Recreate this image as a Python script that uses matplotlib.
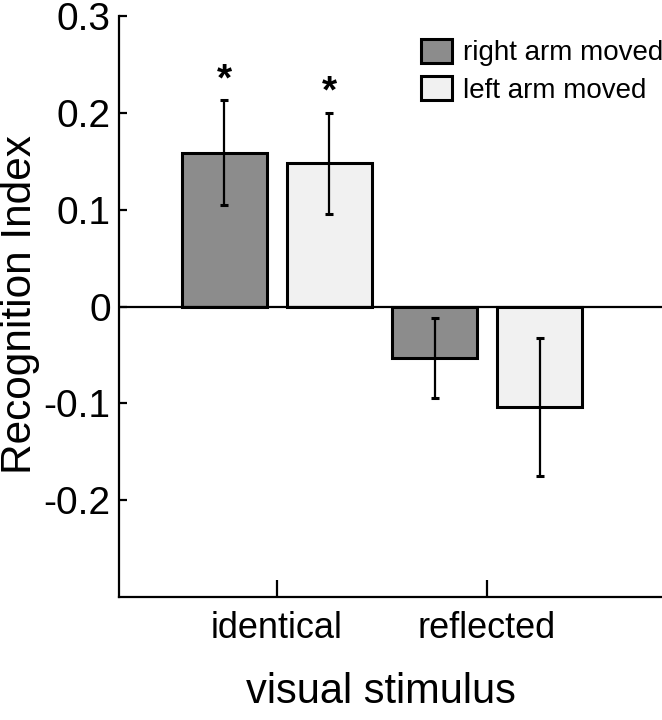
import numpy as np
import matplotlib
matplotlib.use("Agg")
import matplotlib.pyplot as plt

plt.rcParams['font.family'] = ['Liberation Sans', 'DejaVu Sans']

# data
stimuli = ["identical", "reflected"]
series = ["right arm moved", "left arm moved"]
right_arm = [0.159, -0.053]
right_err = [0.054, 0.041]
left_arm = [0.148, -0.104]
left_err = [0.052, 0.071]
signif = [[True, False], [True, False]]   # asterisk per series / stimulus

colors = ["#8c8c8c", "#f1f1f1"]

fig = plt.figure(figsize=(6.62, 7.2), dpi=100)
ax = fig.add_axes([0.1798, 0.1708, 0.8202, 0.807])

x = np.arange(len(stimuli))
width = 0.405
offset = 0.25

for k, (vals, errs) in enumerate([(right_arm, right_err), (left_arm, left_err)]):
    pos = x + (k * 2 - 1) * offset
    ax.bar(pos, vals, width, color=colors[k], edgecolor="black",
           linewidth=2.2, label=series[k], zorder=2)
    ax.errorbar(pos, vals, yerr=errs, fmt="none", ecolor="black",
                elinewidth=1.6, capsize=3, capthick=2.2, zorder=3)
    for i in range(len(stimuli)):
        if signif[k][i]:
            ax.text(pos[i], vals[i] + errs[i] + 0.002, "*", ha="center",
                    va="bottom", fontsize=28, fontweight="bold")

ax.axhline(0, color="black", linewidth=1.6, zorder=4)

ax.set_xlim(-0.752, 1.833)
ax.set_ylim(-0.3, 0.3)
ax.set_yticks([0.3, 0.2, 0.1, 0, -0.2, -0.1])
ax.set_yticklabels(["0.3", "0.2", "0.1", "0", "-0.2", "-0.1"])
ax.set_xticks(x)
ax.set_xticklabels(stimuli)

ax.spines["top"].set_visible(False)
ax.spines["right"].set_visible(False)
ax.spines["left"].set_linewidth(1.6)
ax.spines["bottom"].set_linewidth(1.6)
ax.tick_params(axis="y", direction="in", length=6, width=1.6,
               labelsize=28, pad=6)
ax.tick_params(axis="x", direction="in", length=12, width=1.6,
               labelsize=26, pad=10)

ax.set_ylabel("Recognition Index", fontsize=30.5, va="center")
ax.yaxis.set_label_coords(-0.182, 0.503)
ax.set_xlabel("visual stimulus", fontsize=30, va="center")
ax.xaxis.set_label_coords(0.4825, -0.1635)

ax.legend(loc="upper left", bbox_to_anchor=(0.636, 0.946),
          bbox_transform=fig.transFigure, frameon=False, fontsize=20,
          handlelength=1.1, handleheight=0.95, handletextpad=0.4,
          labelspacing=0.35, borderpad=0, borderaxespad=0)

fig.savefig("out.png", dpi=100)
